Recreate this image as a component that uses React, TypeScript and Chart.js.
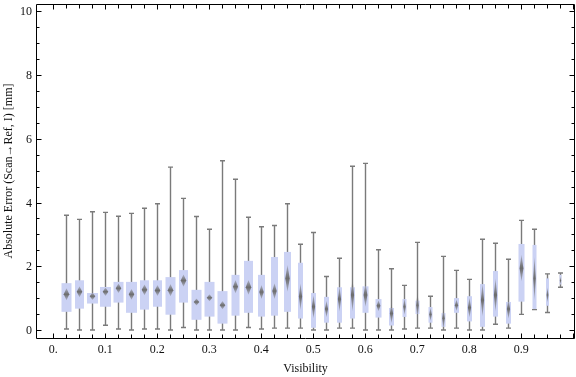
import React, { useEffect, useRef } from 'react';
import { Chart, registerables } from 'chart.js';

Chart.register(...registerables);

// ---- Data ----
const visibility = [
  0.025, 0.05, 0.075, 0.1, 0.125, 0.15, 0.175, 0.2, 0.225, 0.25,
  0.275, 0.3, 0.325, 0.35, 0.375, 0.4, 0.425, 0.45, 0.475, 0.5,
  0.525, 0.55, 0.575, 0.6, 0.625, 0.65, 0.675, 0.7, 0.725, 0.75,
  0.775, 0.8, 0.825, 0.85, 0.875, 0.9, 0.925, 0.95, 0.975,
];
const whiskerLow = [
  0.03, 0.0, 0.0, 0.15, 0.03, 0.0, 0.03, 0.03, 0.0, 0.08,
  0.0, 0.0, 0.0, 0.0, 0.08, 0.03, 0.06, 0.06, 0.06, 0.0,
  0.0, 0.06, 0.06, 0.0, 0.0, 0.0, 0.03, 0.06, 0.06, 0.0,
  0.06, 0.0, 0.0, 0.18, 0.06, 0.49, 0.64, 0.55, 1.34,
];
const quartile1 = [
  0.57, 0.67, 0.83, 0.73, 0.86, 0.54, 0.64, 0.73, 0.48, 0.86,
  0.32, 0.42, 0.2, 0.45, 0.54, 0.42, 0.45, 0.57, 0.36, 0.07,
  0.23, 0.23, 0.36, 0.54, 0.39, 0.14, 0.41, 0.5, 0.23, 0.1,
  0.54, 0.27, 0.1, 0.42, 0.2, 0.89, 0.66, 0.76, 1.43,
];
const medians = [
  1.12, 1.2, 1.06, 1.2, 1.31, 1.12, 1.26, 1.24, 1.25, 1.55,
  0.88, 1.01, 0.78, 1.36, 1.34, 1.19, 1.22, 1.62, 1.05, 0.73,
  0.66, 0.97, 1.1, 1.1, 0.76, 0.52, 0.73, 0.78, 0.49, 0.37,
  0.78, 0.7, 0.94, 1.1, 0.66, 1.94, 1.62, 1.1, 1.55,
];
const quartile3 = [
  1.47, 1.56, 1.16, 1.35, 1.51, 1.51, 1.56, 1.56, 1.66, 1.88,
  1.26, 1.51, 1.22, 1.73, 2.17, 1.73, 2.29, 2.45, 2.11, 1.16,
  1.04, 1.34, 1.34, 1.37, 0.97, 0.69, 0.97, 0.92, 0.72, 0.53,
  1.0, 1.06, 1.44, 1.85, 0.88, 2.7, 2.67, 1.62, 1.73,
];
const whiskerHigh = [
  3.6, 3.47, 3.71, 3.69, 3.57, 3.66, 3.82, 3.96, 5.11, 4.13,
  3.56, 3.16, 5.31, 4.73, 3.54, 3.24, 3.28, 3.96, 2.69, 3.06,
  1.68, 2.25, 5.14, 5.23, 2.52, 1.92, 1.4, 2.75, 1.06, 2.31,
  1.87, 1.59, 2.85, 2.72, 2.22, 3.44, 3.16, 1.76, 1.79,
];
// half-height of the median (diamond) marker, in data units
const medianHalfCI = [
  0.19, 0.17, 0.12, 0.13, 0.15, 0.17, 0.17, 0.17, 0.19, 0.19,
  0.11, 0.11, 0.13, 0.21, 0.23, 0.22, 0.25, 0.42, 0.42, 0.37,
  0.26, 0.39, 0.52, 0.37, 0.17, 0.31, 0.26, 0.42, 0.21, 0.34,
  0.18, 0.31, 0.52, 0.52, 0.31, 0.42, 0.68, 0.24, 0.14,
];

const xMajorTicks = [0, 0.1, 0.2, 0.3, 0.4, 0.5, 0.6, 0.7, 0.8, 0.9];
const xTickLabels = ['0.', '0.1', '0.2', '0.3', '0.4', '0.5', '0.6', '0.7', '0.8', '0.9'];
const yMajorTicks = [0, 2, 4, 6, 8, 10];
const yTickLabels = ['0', '2', '4', '6', '8', '10'];

const xTitle = 'Visibility';
const yTitle = 'Absolute Error (Scan\u2192Ref, I) [mm]';

// ---- Styles ----
const boxWidthPx = [
  10, 9, 11, 11, 10, 11, 9, 9, 10, 9,
  10, 10, 10, 8, 9, 7, 7, 7, 5, 5,
  5, 5, 5, 6, 6, 5, 4, 4, 4, 4,
  5, 5, 5, 5, 5, 6, 4, 3, 2,
];
const BOX_FILL = '#cbd2f4';
const WHISKER = '#7a7a7a';
const FONT = '"Liberation Serif", "Times New Roman", serif';

const boxPlugin = {
  id: 'boxWhisker',
  afterDatasetsDraw(chart: any) {
    const ctx = chart.ctx as CanvasRenderingContext2D;
    const xs = chart.scales.x;
    const ys = chart.scales.y;
    ctx.save();
    for (let i = 0; i < visibility.length; i++) {
      const cx = Math.round(xs.getPixelForValue(visibility[i])) + 0.5;
      const w = boxWidthPx[i];
      const yLo = ys.getPixelForValue(whiskerLow[i]);
      const yHi = ys.getPixelForValue(whiskerHigh[i]);
      const yQ1 = ys.getPixelForValue(quartile1[i]);
      const yQ3 = ys.getPixelForValue(quartile3[i]);
      const yMed = ys.getPixelForValue(medians[i]);
      // whisker
      ctx.strokeStyle = WHISKER;
      ctx.lineWidth = 1.4;
      ctx.beginPath();
      ctx.moveTo(cx, yLo);
      ctx.lineTo(cx, yHi);
      ctx.moveTo(cx - 2.5, yLo);
      ctx.lineTo(cx + 2.5, yLo);
      ctx.moveTo(cx - 2.5, yHi);
      ctx.lineTo(cx + 2.5, yHi);
      ctx.stroke();
      // box
      ctx.fillStyle = BOX_FILL;
      ctx.fillRect(cx - w / 2, yQ3, w, yQ1 - yQ3);
      // median diamond
      const hh = Math.max(3.5, Math.abs(ys.getPixelForValue(medians[i] + medianHalfCI[i]) - yMed));
      const hw = Math.min(2.8, w * 0.32);
      const g = ctx.createLinearGradient(0, yMed - hh, 0, yMed + hh);
      g.addColorStop(0, 'rgba(115,115,115,0.35)');
      g.addColorStop(0.5, 'rgba(108,108,108,1)');
      g.addColorStop(1, 'rgba(115,115,115,0.35)');
      ctx.fillStyle = g;
      ctx.beginPath();
      ctx.moveTo(cx, yMed - hh);
      ctx.lineTo(cx + hw, yMed);
      ctx.lineTo(cx, yMed + hh);
      ctx.lineTo(cx - hw, yMed);
      ctx.closePath();
      ctx.fill();
    }
    ctx.restore();
  },
};

const framePlugin = {
  id: 'mmaFrame',
  afterDraw(chart: any) {
    const ctx = chart.ctx as CanvasRenderingContext2D;
    const xs = chart.scales.x;
    const ys = chart.scales.y;
    const { left, right, top, bottom } = chart.chartArea;
    const L = left + 0.5, R = right - 0.5, T = top + 0.5, B = bottom + 0.5;
    ctx.save();
    ctx.strokeStyle = '#000';
    ctx.lineWidth = 1;
    ctx.beginPath();
    ctx.rect(L, T, R - L, B - T);
    // x ticks (bottom + top)
    for (let k = 0; k <= 40; k++) {
      const v = k * 0.025;
      if (v > xs.max) break;
      const px = Math.round(xs.getPixelForValue(v)) + 0.5;
      const major = k % 4 === 0;
      const len = major ? 5 : 4;
      ctx.moveTo(px, B);
      ctx.lineTo(px, B - len);
      ctx.moveTo(px, T);
      ctx.lineTo(px, T + len);
    }
    // y ticks (left + right)
    for (let k = 0; k <= 20; k++) {
      const v = k * 0.5;
      const py = Math.round(ys.getPixelForValue(v)) + 0.5;
      const major = k % 4 === 0;
      const len = major ? 5 : 3;
      ctx.moveTo(L, py);
      ctx.lineTo(L + len, py);
      ctx.moveTo(R, py);
      ctx.lineTo(R - len, py);
    }
    ctx.stroke();

    ctx.fillStyle = '#111';
    ctx.font = `12px ${FONT}`;
    ctx.textAlign = 'center';
    ctx.textBaseline = 'alphabetic';
    xMajorTicks.forEach((v, i) => {
      ctx.fillText(xTickLabels[i], xs.getPixelForValue(v), bottom + 15);
    });
    ctx.textAlign = 'right';
    yMajorTicks.forEach((v, i) => {
      ctx.fillText(yTickLabels[i], left - 4, ys.getPixelForValue(v) + 4);
    });
    // axis titles
    ctx.textAlign = 'center';
    ctx.font = `12px ${FONT}`;
    ctx.fillText(xTitle, (left + right) / 2, 372);
    ctx.save();
    ctx.translate(12, (top + bottom) / 2);
    ctx.rotate(-Math.PI / 2);
    ctx.fillText(yTitle, 0, 0);
    ctx.restore();
    ctx.restore();
  },
};

export default function App() {
  const ref = useRef<HTMLCanvasElement | null>(null);
  useEffect(() => {
    document.body.style.margin = '0';
    const canvas = ref.current;
    if (!canvas) return;
    const chart = new Chart(canvas, {
      type: 'scatter',
      data: {
        datasets: [
          {
            data: visibility.map((v, i) => ({ x: v, y: medians[i] })),
            pointRadius: 0,
            pointHoverRadius: 0,
            showLine: false,
          },
        ],
      },
      options: {
        responsive: false,
        animation: false,
        devicePixelRatio: 1,
        layout: { padding: { left: 36, top: 4, right: 1, bottom: 39 } },
        plugins: { legend: { display: false }, tooltip: { enabled: false } },
        events: [],
        scales: {
          x: { type: 'linear', display: false, min: -0.0333, max: 1.0033 },
          y: { type: 'linear', display: false, min: -0.251, max: 10.23 },
        },
      },
      plugins: [boxPlugin, framePlugin],
    });
    return () => chart.destroy();
  }, []);
  return (
    <canvas
      ref={ref}
      width={576}
      height={377}
      style={{ display: 'block', width: 576, height: 377, background: '#fff' }}
    />
  );
}
